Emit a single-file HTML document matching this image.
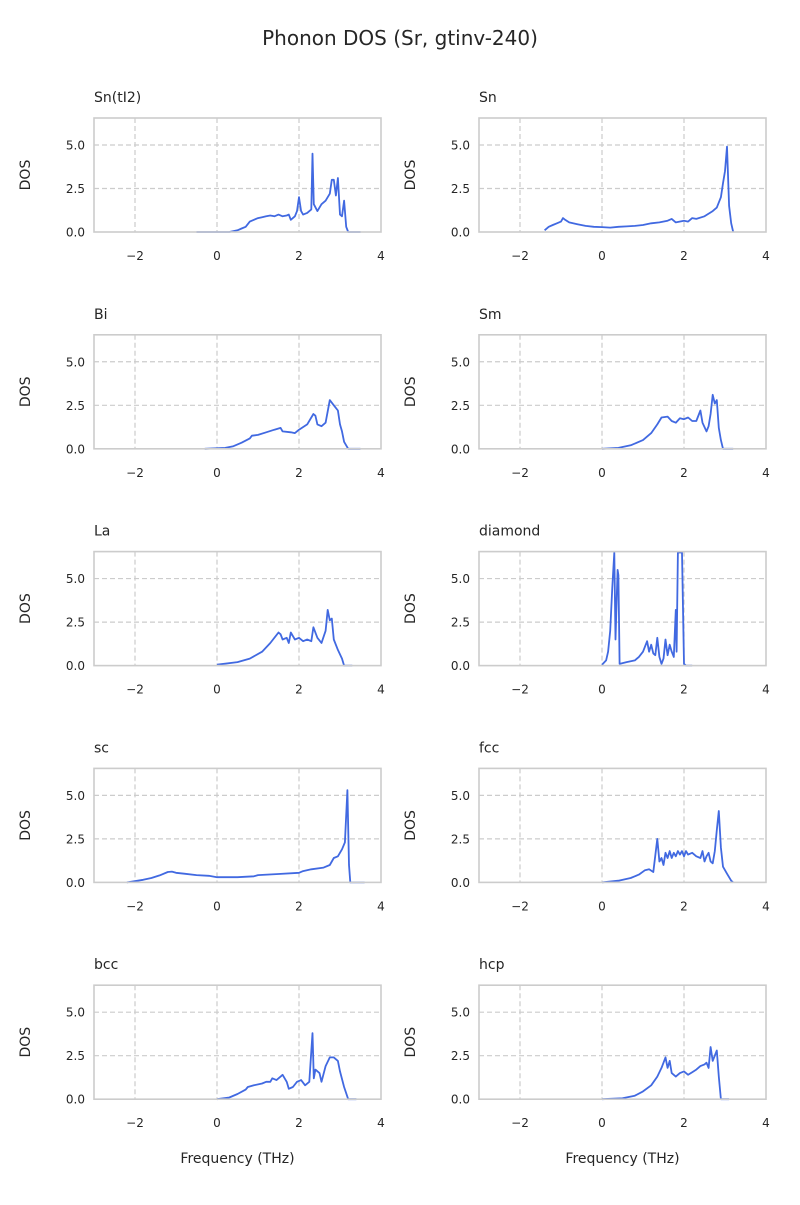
<!DOCTYPE html>
<html><head><meta charset="utf-8"><style>
body{margin:0;background:#fff;font-family:"Liberation Sans","DejaVu Sans",sans-serif;}
svg text{font-family:"DejaVu Sans","Liberation Sans",sans-serif;fill:#262626;}
</style></head><body>
<svg id="chart" width="800" height="1200" viewBox="0 0 800 1200">
<text x="400" y="45" text-anchor="middle" font-size="20">Phonon DOS (Sr, gtinv-240)</text>
</svg>
<script>
const panelNames = ["Sn(tI2)","Sn","Bi","Sm","La","diamond","sc","fcc","bcc","hcp"];
const xTicks = [-2,0,2,4];
const yTicks = [0,2.5,5];
const yTickLabels = ["0.0","2.5","5.0"];
const xDomain = [-3,4];
const yDomain = [0,6.55];
const fSnTI2 = [-0.5,0.3,0.5,0.6,0.7,0.8,0.9,1.0,1.1,1.2,1.3,1.4,1.5,1.6,1.7,1.75,1.8,1.9,1.95,2.0,2.05,2.1,2.2,2.3,2.33,2.36,2.45,2.55,2.65,2.75,2.8,2.85,2.9,2.95,3.0,3.05,3.1,3.15,3.2,3.5];
const dSnTI2 = [0,0,0.1,0.2,0.3,0.6,0.7,0.8,0.85,0.9,0.95,0.9,1.0,0.9,0.95,1.0,0.7,0.9,1.2,2.0,1.2,1.0,1.1,1.3,4.5,1.6,1.2,1.6,1.8,2.2,3.0,3.0,2.1,3.1,1.0,0.9,1.8,0.3,0,0];
const fSn = [-1.4,-1.3,-1.2,-1.1,-1.0,-0.95,-0.9,-0.8,-0.6,-0.4,-0.2,0,0.2,0.4,0.6,0.8,1.0,1.2,1.4,1.6,1.7,1.8,2.0,2.1,2.2,2.3,2.5,2.7,2.8,2.9,2.95,3.0,3.05,3.1,3.15,3.2];
const dSn = [0.1,0.3,0.4,0.5,0.6,0.8,0.7,0.55,0.45,0.35,0.3,0.28,0.25,0.3,0.32,0.35,0.4,0.5,0.55,0.65,0.75,0.55,0.65,0.6,0.8,0.75,0.9,1.2,1.4,2.0,2.8,3.5,4.9,1.5,0.5,0];
const fBi = [-0.3,0.2,0.4,0.6,0.8,0.85,1.0,1.2,1.4,1.55,1.6,1.8,1.9,2.0,2.2,2.3,2.35,2.4,2.45,2.55,2.65,2.75,2.85,2.95,3.0,3.05,3.1,3.2,3.5];
const dBi = [0,0.05,0.15,0.35,0.6,0.75,0.8,0.95,1.1,1.2,1.0,0.95,0.9,1.1,1.4,1.8,2.0,1.9,1.4,1.3,1.5,2.8,2.5,2.2,1.4,1.0,0.4,0,0];
const fSm = [0,0.4,0.7,1.0,1.2,1.35,1.45,1.6,1.7,1.8,1.9,2.0,2.1,2.2,2.3,2.4,2.45,2.55,2.6,2.65,2.7,2.75,2.8,2.85,2.9,2.95,3.2];
const dSm = [0,0.05,0.2,0.5,0.9,1.4,1.8,1.85,1.6,1.5,1.75,1.7,1.8,1.6,1.6,2.2,1.5,1.0,1.3,2.0,3.1,2.6,2.8,1.2,0.5,0,0];
const fLa = [0,0.5,0.8,1.1,1.3,1.5,1.55,1.6,1.7,1.75,1.8,1.9,2.0,2.1,2.2,2.3,2.35,2.45,2.55,2.65,2.7,2.75,2.8,2.85,2.95,3.05,3.1,3.3];
const dLa = [0.05,0.2,0.4,0.8,1.3,1.9,1.8,1.5,1.6,1.3,1.9,1.5,1.6,1.4,1.5,1.4,2.2,1.6,1.3,2.0,3.2,2.6,2.7,1.5,0.9,0.4,0,0];
const fDia = [0,0.1,0.15,0.2,0.25,0.3,0.33,0.36,0.38,0.4,0.43,0.6,0.8,0.9,1.0,1.1,1.15,1.2,1.25,1.3,1.35,1.4,1.45,1.5,1.55,1.6,1.65,1.7,1.75,1.8,1.82,1.85,1.9,1.95,2.0,2.05,2.2];
const dDia = [0.05,0.3,0.8,2.0,4.5,6.5,1.5,4.0,5.5,5.2,0.1,0.2,0.3,0.5,0.8,1.4,0.8,1.2,0.7,0.6,1.6,0.5,0.1,0.4,1.5,0.6,1.2,0.8,0.5,3.2,0.8,6.5,6.5,6.5,0.1,0,0];
const fSc = [-2.2,-1.8,-1.6,-1.4,-1.2,-1.1,-1.0,-0.8,-0.5,-0.2,0,0.5,0.9,1.0,1.5,2.0,2.1,2.3,2.6,2.75,2.85,2.95,3.05,3.12,3.18,3.22,3.25,3.6];
const dSc = [0,0.15,0.25,0.4,0.6,0.62,0.55,0.5,0.42,0.38,0.3,0.3,0.35,0.42,0.48,0.55,0.65,0.75,0.85,1.0,1.4,1.5,1.9,2.3,5.3,1.0,0,0];
const fFcc = [0,0.4,0.7,0.9,1.05,1.15,1.25,1.35,1.4,1.45,1.5,1.55,1.6,1.65,1.7,1.75,1.8,1.85,1.9,1.95,2.0,2.05,2.1,2.2,2.3,2.4,2.45,2.5,2.55,2.6,2.65,2.7,2.75,2.8,2.85,2.9,2.95,3.05,3.15,3.2];
const dFcc = [0,0.1,0.25,0.45,0.7,0.75,0.6,2.5,1.2,1.4,1.0,1.7,1.4,1.8,1.4,1.7,1.5,1.8,1.6,1.8,1.5,1.8,1.6,1.7,1.5,1.4,1.8,1.2,1.5,1.7,1.2,1.1,1.8,3.0,4.1,2.0,0.9,0.5,0.1,0];
const fBcc = [0,0.3,0.5,0.7,0.75,0.9,1.1,1.2,1.3,1.35,1.45,1.55,1.6,1.7,1.75,1.85,1.95,2.05,2.15,2.25,2.33,2.36,2.4,2.5,2.55,2.65,2.75,2.85,2.95,3.0,3.1,3.2,3.4];
const dBcc = [0,0.1,0.3,0.55,0.7,0.8,0.9,1.0,1.0,1.2,1.1,1.3,1.4,1.0,0.6,0.7,1.0,1.1,0.8,1.0,3.8,1.2,1.7,1.5,1.0,1.9,2.4,2.4,2.2,1.6,0.7,0,0];
const fHcp = [0,0.5,0.8,1.0,1.2,1.35,1.45,1.5,1.55,1.6,1.65,1.7,1.8,1.9,2.0,2.1,2.2,2.3,2.4,2.5,2.55,2.6,2.65,2.7,2.8,2.85,2.9,3.1];
const dHcp = [0,0.05,0.2,0.45,0.8,1.3,1.8,2.1,2.4,1.8,2.2,1.5,1.3,1.5,1.6,1.4,1.55,1.7,1.9,2.0,2.1,1.8,3.0,2.2,2.8,1.3,0,0];
const freqs = [fSnTI2,fSn,fBi,fSm,fLa,fDia,fSc,fFcc,fBcc,fHcp];
const doses = [dSnTI2,dSn,dBi,dSm,dLa,dDia,dSc,dFcc,dBcc,dHcp];

const NS="http://www.w3.org/2000/svg";
const svg=document.getElementById('chart');
function mk(tag,attrs,parent){const e=document.createElementNS(NS,tag);for(const k in attrs)e.setAttribute(k,attrs[k]);(parent||svg).appendChild(e);return e;}
const colX=[94,479], W=287, H=114, top0=118, rowStep=216.8;
panelNames.forEach((name,i)=>{
  const c=i%2, r=Math.floor(i/2);
  const x0=colX[c], y0=top0+r*rowStep;
  const sx=v=>x0+(v-xDomain[0])/(xDomain[1]-xDomain[0])*W;
  const sy=v=>y0+H-(v-yDomain[0])/(yDomain[1]-yDomain[0])*H;
  const g=mk('g',{});
  
  
  xTicks.forEach(t=>{
    if(t<4){const l=mk('line',{x1:sx(t),x2:sx(t),y1:y0,y2:y0+H,stroke:'#cccccc','stroke-dasharray':'5,3','stroke-width':1.2},g);
    
    }
    const tx=mk('text',{x:sx(t),y:y0+H+28,'text-anchor':'middle','font-size':12},g);
    tx.textContent=(t<0?'\u2212'+(-t):t);
    
    
  });
  yTicks.forEach((t,k)=>{
    if(t>0){const l=mk('line',{x1:x0,x2:x0+W,y1:sy(t),y2:sy(t),stroke:'#cccccc','stroke-dasharray':'5,3','stroke-width':1.2},g);
    
    }
    const tx=mk('text',{x:x0-9,y:sy(t)+4.5,'text-anchor':'end','font-size':12},g);
    tx.textContent=yTickLabels[k];
    
    
  });
  const pts=freqs[i].map((f,k)=>sx(f).toFixed(1)+','+sy(doses[i][k]).toFixed(1)).join(' ');
  const pl=mk('polyline',{points:pts,fill:'none',stroke:'#4169e1','stroke-width':1.8,'stroke-linejoin':'round'},g);
  
  
  const fr=mk('rect',{x:x0,y:y0,width:W,height:H,fill:'none',stroke:'#cccccc','stroke-width':1.6},g);
  
  
  const tt=mk('text',{x:x0,y:y0-16,'font-size':14},g);
  tt.textContent=name;
  
  
  const yl=mk('text',{x:0,y:0,'font-size':14,'text-anchor':'middle',transform:`translate(${x0-64},${y0+H/2}) rotate(-90)`},g);
  yl.textContent='DOS';
  
  
  if(r===4){
    const xl=mk('text',{x:x0+W/2,y:y0+H+64,'font-size':14,'text-anchor':'middle'},g);
    xl.textContent='Frequency (THz)';
    
    
  }
});
</script>
</body></html>
